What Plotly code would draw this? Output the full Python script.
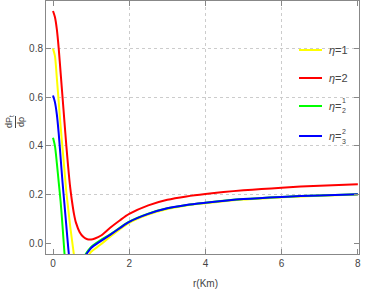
import plotly.graph_objects as go

# ---------------- data ----------------
# eta = 1 (yellow)
R_ETA1 = [0, 0.05, 0.1, 0.15, 0.2, 0.25, 0.3, 0.35, 0.4, 0.45, 0.5, 0.55, 0.6, None,
          0.92, 0.96, 1.0, 1.25, 1.5, 1.75, 2, 2.5, 3, 3.5, 4, 5, 6, 7, 8]
DP_ETA1 = [0.80, 0.77, 0.68, 0.58, 0.48, 0.39, 0.30, 0.21, 0.14, 0.07, 0.01, -0.05, -0.11, None,
           -0.06, -0.045, -0.036, -0.006, 0.026, 0.056, 0.083, 0.117, 0.140, 0.155, 0.164, 0.179, 0.188, 0.195, 0.200]

# eta = 2 (red)
R_ETA2 = [0, 0.05, 0.1, 0.15, 0.2, 0.25, 0.3, 0.35, 0.4, 0.45, 0.5, 0.55, 0.6, 0.7, 0.8, 0.9,
          1.0, 1.1, 1.25, 1.5, 1.75, 2, 2.5, 3, 3.5, 4, 5, 6, 7, 8]
DP_ETA2 = [0.955, 0.93, 0.88, 0.80, 0.70, 0.60, 0.50, 0.40, 0.31, 0.23, 0.17, 0.12, 0.085, 0.045, 0.025, 0.016,
           0.015, 0.019, 0.030, 0.063, 0.093, 0.120, 0.155, 0.178, 0.192, 0.202, 0.217, 0.228, 0.236, 0.242]

# eta = 1/2 (green)
R_ETA_HALF = [0, 0.05, 0.1, 0.15, 0.2, 0.25, 0.3, 0.35, None,
              0.82, 0.86, 0.95, 1.0, 1.25, 1.5, 2, 2.5, 3, 4, 5, 6, 7, 8]
DP_ETA_HALF = [0.433, 0.40, 0.33, 0.25, 0.17, 0.07, -0.04, -0.13, None,
               -0.058, -0.045, -0.025, -0.016, 0.012, 0.036, 0.088, 0.121, 0.143, 0.166, 0.181, 0.190, 0.196, 0.201]

# eta = 2/3 (blue)
R_ETA_2_3 = [0, 0.05, 0.1, 0.15, 0.2, 0.25, 0.3, 0.35, 0.4, 0.45, None,
             0.85, 0.88, 0.95, 1.0, 1.25, 1.5, 1.75, 2, 2.5, 3, 3.5, 4, 5, 6, 7, 8]
DP_ETA_2_3 = [0.607, 0.58, 0.53, 0.45, 0.35, 0.25, 0.16, 0.07, -0.02, -0.10, None,
              -0.058, -0.045, -0.030, -0.020, 0.008, 0.034, 0.061, 0.087, 0.120, 0.143, 0.157, 0.166, 0.181, 0.190, 0.196, 0.201]

X_TICKS = [0, 2, 4, 6, 8]
Y_TICKS = [0.0, 0.2, 0.4, 0.6, 0.8]
X_TICK_LABELS = ["0", "2", "4", "6", "8"]
Y_TICK_LABELS = ["0.0", "0.2", "0.4", "0.6", "0.8"]
X_GRID = [2, 4, 6]
Y_GRID = [0.2, 0.4, 0.6, 0.8]
X_RANGE = [-0.184, 8.03]
Y_RANGE = [-0.045, 0.996]

SERIES = [
    # (r, dp, colour, legend numerator/plain label, denominator)
    (R_ETA1, DP_ETA1, "#FFFF00", "1", None),
    (R_ETA2, DP_ETA2, "#FF0000", "2", None),
    (R_ETA_HALF, DP_ETA_HALF, "#00FF00", "1", "2"),
    (R_ETA_2_3, DP_ETA_2_3, "#0000FF", "2", "3"),
]

# ---------------- figure ----------------
W, H = 366, 291
ML, MR, MT, MB = 46, 7, 1, 37
PW, PH = W - ML - MR, H - MT - MB

def px(xp):
    return (xp - ML) / PW

def py(yp):
    return 1 - (yp - MT) / PH

FONT = "Liberation Sans, Arial, sans-serif"
TXT = "#444444"
FRAME = "#888888"
GRID = "#cccccc"

fig = go.Figure()
for r, dp, col, a, b in SERIES:
    fig.add_trace(go.Scatter(x=r, y=dp, mode="lines",
                             line=dict(color=col, width=2, shape="spline", smoothing=0.8),
                             connectgaps=False, showlegend=False, hoverinfo="skip"))

fig.update_layout(
    width=W, height=H,
    margin=dict(l=ML, r=MR, t=MT, b=MB, autoexpand=False),
    paper_bgcolor="white", plot_bgcolor="white",
    showlegend=False,
    font=dict(family=FONT, size=10, color=TXT),
)
fig.update_xaxes(range=X_RANGE, tickmode="array", tickvals=X_TICKS, ticktext=X_TICK_LABELS,
                 ticks="inside", ticklen=5, tickwidth=1, tickcolor=FRAME,
                 showline=True, linecolor=FRAME, linewidth=1, mirror="ticks",
                 showgrid=False, zeroline=False,
                 minor=dict(tickvals=X_GRID, showgrid=True, gridcolor=GRID, griddash="dot", gridwidth=1),
                 tickfont=dict(family=FONT, size=10, color=TXT))
fig.update_yaxes(range=Y_RANGE, tickmode="array", tickvals=Y_TICKS, ticktext=Y_TICK_LABELS,
                 ticks="inside", ticklen=5, tickwidth=1, tickcolor=FRAME,
                 showline=True, linecolor=FRAME, linewidth=1, mirror="ticks",
                 showgrid=False, zeroline=False,
                 minor=dict(tickvals=Y_GRID, showgrid=True, gridcolor=GRID, griddash="dot", gridwidth=1),
                 tickfont=dict(family=FONT, size=10, color=TXT))

ann = []
shapes = []
# plot frame (half-pixel offsets keep the 1px line crisp)
shapes.append(dict(type="rect", xref="paper", yref="paper",
                   x0=px(ML - 0.5), x1=px(W - MR + 0.5), y0=py(H - MB + 0.5), y1=py(MT - 0.5),
                   line=dict(color=FRAME, width=1), fillcolor="rgba(0,0,0,0)", layer="above"))
# x title
ann.append(dict(text="r(Km)", xref="paper", yref="paper", x=px(205), y=py(283),
                xanchor="center", yanchor="middle", showarrow=False,
                font=dict(family=FONT, size=10, color=TXT)))
# y title as a rotated fraction dP_t / dρ
ann.append(dict(text="dP<sub>t</sub>", xref="paper", yref="paper", x=px(9), y=py(122),
                xanchor="center", yanchor="middle", showarrow=False, textangle=-90,
                font=dict(family=FONT, size=9, color=TXT)))
ann.append(dict(text="dρ", xref="paper", yref="paper", x=px(21), y=py(122),
                xanchor="center", yanchor="middle", showarrow=False, textangle=-90,
                font=dict(family=FONT, size=9, color=TXT)))
shapes.append(dict(type="line", xref="paper", yref="paper", x0=px(15.5), x1=px(15.5),
                   y0=py(116), y1=py(128), line=dict(color=TXT, width=1)))

# manual legend
LEG_Y = [50, 78, 106, 136]
for (r, dp, col, a, b), ly in zip(SERIES, LEG_Y):
    shapes.append(dict(type="line", xref="paper", yref="paper", x0=px(299), x1=px(322),
                       y0=py(ly), y1=py(ly), line=dict(color=col, width=2)))
    if b is None:
        ann.append(dict(text="<i>η</i>=" + a, xref="paper", yref="paper", x=px(327), y=py(ly),
                        xanchor="left", yanchor="middle", showarrow=False,
                        font=dict(family=FONT, size=11, color=TXT)))
    else:
        ann.append(dict(text="<i>η</i>=", xref="paper", yref="paper", x=px(327), y=py(ly),
                        xanchor="left", yanchor="middle", showarrow=False,
                        font=dict(family=FONT, size=11, color=TXT)))
        ann.append(dict(text=a, xref="paper", yref="paper", x=px(344), y=py(ly - 5),
                        xanchor="center", yanchor="middle", showarrow=False,
                        font=dict(family=FONT, size=7, color=TXT)))
        ann.append(dict(text=b, xref="paper", yref="paper", x=px(344), y=py(ly + 5),
                        xanchor="center", yanchor="middle", showarrow=False,
                        font=dict(family=FONT, size=7, color=TXT)))

fig.update_layout(annotations=ann, shapes=shapes)
fig.write_html("out.html", config={"displayModeBar": False},
               post_script="document.body.style.margin='0';document.body.style.padding='0';")
